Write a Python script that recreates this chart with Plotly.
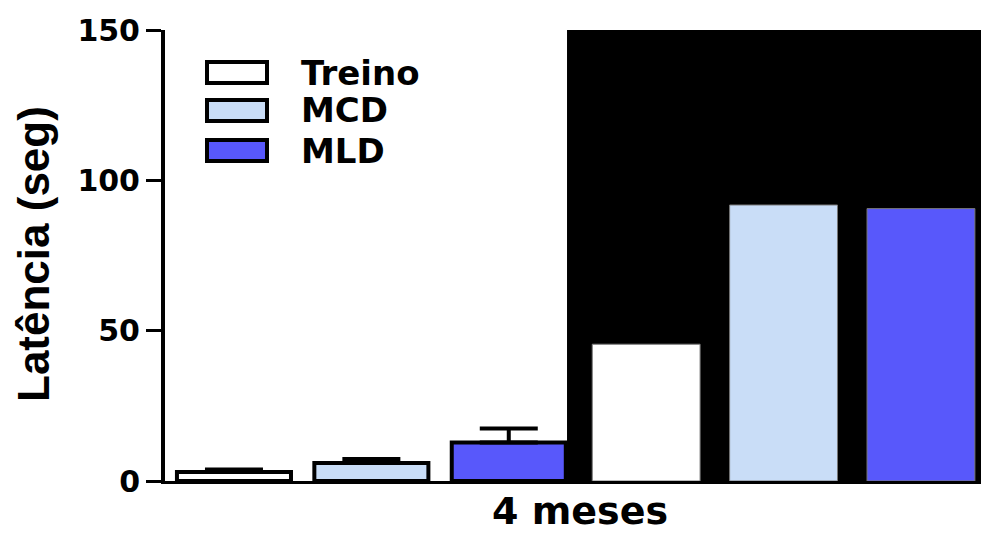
import plotly.graph_objects as go

# ---- data ----
groups = ["Treino", "MCD", "MLD"]
group_colors = ["#ffffff", "#c9ddf7", "#5858fb"]
# left block (first session) with SEM, right block (second session)
values_left = [3.0, 6.0, 12.8]
errors_left = [0.8, 1.3, 4.7]
values_right = [45.5, 91.8, 90.6]
x_title = "4 meses"
y_title = "Latência (seg)"
y_ticks = [0, 50, 100, 150]

# ---- layout geometry (pixels) ----
W, H = 981, 535
L, R, T, B = 165, 0, 30, 54
PW, PH = W - L - R, H - T - B

def px(xp):
    return (xp - L) / PW

def py(yp):
    return (H - B - yp) / PH

fig = go.Figure()

n = len(groups)
for i, g in enumerate(groups):
    fig.add_trace(go.Bar(
        x=[i], y=[values_left[i]], width=0.83,
        marker=dict(color=group_colors[i], line=dict(color="#000000", width=4)),
        error_y=dict(type="data", symmetric=False,
                     array=[errors_left[i]], arrayminus=[0],
                     color="#000000", thickness=4, width=29),
        name=g, showlegend=False,
    ))
    fig.add_trace(go.Bar(
        x=[i + n], y=[values_right[i]], width=0.785,
        marker=dict(color=group_colors[i], line=dict(color="#777777", width=1)),
        name=g, showlegend=False,
    ))

# black background behind second block
fig.add_shape(type="rect", xref="x", yref="y", x0=2.424, x1=5.437, y0=0, y1=150,
              fillcolor="#000000", line=dict(width=0), layer="below")

# legend (drawn manually)
rows = [(62, 83), (100, 121), (140, 161)]
for i, g in enumerate(groups):
    y0p, y1p = rows[i]
    fig.add_shape(type="rect", xref="paper", yref="paper",
                  x0=px(207), x1=px(267), y0=py(y1p), y1=py(y0p),
                  fillcolor=group_colors[i], line=dict(color="#000000", width=4))
    fig.add_annotation(text=g, xref="paper", yref="paper", x=px(299), y=py((y0p + y1p) / 2),
                       xanchor="left", yanchor="middle", showarrow=False,
                       font=dict(family="DejaVu Sans", size=34, color="#000000", weight="bold"))

fig.add_annotation(text=x_title, xref="paper", yref="paper", x=px(580), y=py(511),
                   xanchor="center", yanchor="middle", showarrow=False,
                   font=dict(family="DejaVu Sans", size=38, color="#000000", weight="bold"))
fig.add_annotation(text=y_title, xref="paper", yref="paper", x=px(33), y=py(254),
                   xanchor="center", yanchor="middle", showarrow=False, textangle=-90,
                   font=dict(family="Liberation Sans", size=44, color="#000000", weight="bold"))

fig.update_layout(
    width=W, height=H,
    margin=dict(l=L, r=R, t=T, b=B, pad=0),
    paper_bgcolor="#ffffff", plot_bgcolor="#ffffff",
    barmode="overlay", showlegend=False,
    xaxis=dict(range=[-0.502, 5.437], showgrid=False, zeroline=False,
               showticklabels=False, ticks="", showline=True,
               linecolor="#000000", linewidth=3),
    yaxis=dict(range=[0, 150], tickvals=y_ticks, ticktext=[str(v) for v in y_ticks],
               showgrid=False, zeroline=False, showline=True, linecolor="#000000",
               linewidth=4, ticks="outside", ticklen=15, tickwidth=3, tickcolor="#000000",
               tickfont=dict(family="DejaVu Sans", size=30, color="#000000", weight="bold")),
)

fig.write_html("out.html", config={"displayModeBar": False},
               post_script="document.body.style.margin='0';document.body.style.overflow='hidden';")
